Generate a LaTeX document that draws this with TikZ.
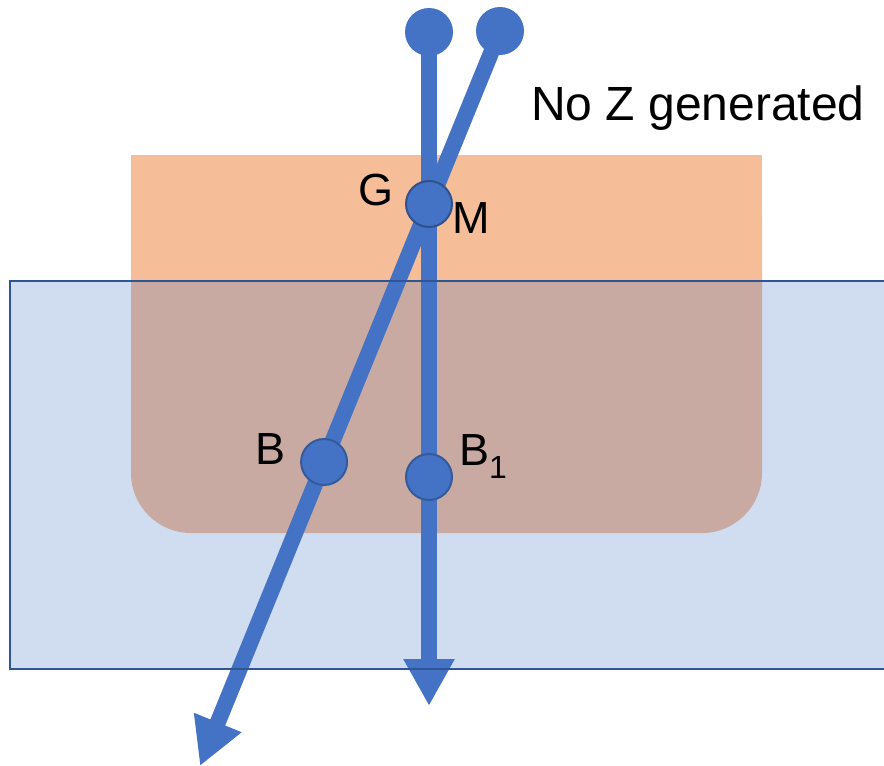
\documentclass[tikz,border=0pt]{standalone}
\usepackage{fontspec}
\setmainfont{Liberation Sans}
\usepackage{tikz}
\usetikzlibrary{calc,arrows.meta}

\definecolor{lineblue}{HTML}{4472C4}
\definecolor{edgeblue}{HTML}{2F528F}
\definecolor{boxorange}{HTML}{F5BE98}
\definecolor{boxedge}{HTML}{2F5597}

\tikzset{
	knob/.style={circle, fill=lineblue, minimum size=48pt, inner sep=0pt},
	joint/.style={circle, fill=lineblue, draw=edgeblue, line width=2pt, minimum size=46pt, inner sep=0pt},
	ray/.style={lineblue, line width=16pt, -{Triangle[width=48pt,length=47pt]}},
	lbl/.style={inner sep=0pt, font=\fontsize{45}{54}\selectfont}
}

\begin{document}
\begin{tikzpicture}[x=1pt,y=-1pt]
			\useasboundingbox (0,0) rectangle (884,766);
			\coordinate (s1) at (429,32);
			\coordinate (s2) at (500,31);
			\coordinate (e1) at (429,706);
			\coordinate (e2) at (200,766);
			
			%upper layer
			\fill[boxorange, rounded corners=60pt] (131,155) rectangle (762,533);
			\fill[boxorange] (131,155) rectangle (762,300);
			
			%rays
			\draw[ray] (s1) -- (e1);
			\draw[ray] (s2) -- (e2);
			
			%start points
			\node[knob] (top1) at (s1) {};
			\node[knob] (top2) at (s2) {};
			
			%crossing and bottom points
			\node[joint] (gm) at (429,204) {};
			\node[joint] (b) at ($(s2)!0.5864!(e2)$) {};
			\node[joint] (bone) at (429,477) {};
			
			%lower layer
			\draw[boxedge, line width=2pt, fill=lineblue, fill opacity=0.25] (10,281) rectangle (886,669);
			
			%labels
			\node[lbl] (lg) at (376,190) {G};
			\node[lbl] (lm) at (471,218) {M};
			\node[lbl] (lb) at (271,449) {B};
			\node[lbl, anchor=base west] (lbone) at (459,465) {B\raisebox{-13pt}{\fontsize{32}{32}\selectfont 1}};
			\node[inner sep=0pt, anchor=base west, font=\fontsize{48}{58}\selectfont] (note) at (531,120) {No Z generated};
		
\end{tikzpicture}
\end{document}
